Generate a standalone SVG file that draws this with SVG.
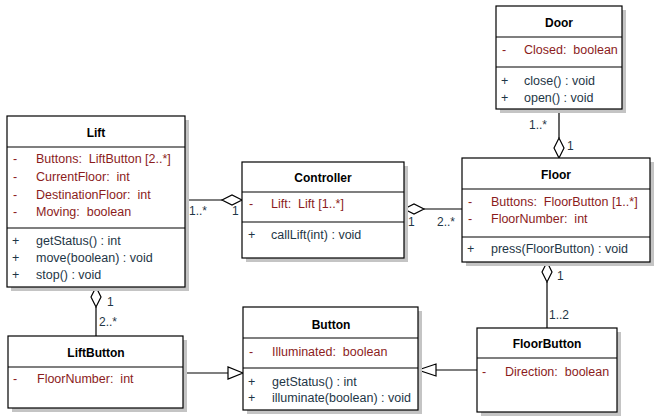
<svg xmlns="http://www.w3.org/2000/svg" width="658" height="418" viewBox="0 0 658 418">
<style>
.box{fill:#fff;stroke:#000;stroke-width:1.2}
.sh{fill:#c4c4c4}
.sep{stroke:#000;stroke-width:1.2}
text{font-family:"Liberation Sans",Arial,sans-serif;font-size:12px;white-space:pre}
.t{font-weight:bold;text-anchor:middle;fill:#000}
.a{fill:#8b1c1c;font-size:12.5px}
.o{fill:#1e3646;font-size:12.5px}
.l{fill:#1e3646}
.c{stroke:#000;stroke-width:1.2;fill:none}
.d{fill:#fff;stroke:#000;stroke-width:1.2}
</style>
<rect width="658" height="418" fill="#fff"/>
<g id="connectors">
<line class="c" x1="185" y1="200" x2="222" y2="200"/>
<polygon class="d" points="242,200 232,195 222,200 232,205"/>
<line class="c" x1="424" y1="209" x2="462" y2="209"/>
<polygon class="d" points="404,209 414,204 424,209 414,214"/>
<line class="c" x1="559" y1="109" x2="559" y2="138"/>
<polygon class="d" points="559,158 554,148 559,138 564,148"/>
<line class="c" x1="547" y1="282" x2="547" y2="328"/>
<polygon class="d" points="547,262 552,272 547,282 542,272"/>
<line class="c" x1="96" y1="307" x2="96" y2="336"/>
<polygon class="d" points="96,287 101,297 96,307 91,297"/>
<line class="c" x1="183" y1="373" x2="228" y2="373"/>
<polygon class="d" points="243,373 228,367 228,379"/>
<line class="c" x1="436" y1="370" x2="477" y2="370"/>
<polygon class="d" points="418,370 436,364 436,376"/>
<text class="l" x="189" y="215">1..*</text>
<text class="l" x="232" y="215">1</text>
<text class="l" x="408" y="226">1</text>
<text class="l" x="437" y="226">2..*</text>
<text class="l" x="529" y="129">1..*</text>
<text class="l" x="567" y="150">1</text>
<text class="l" x="557" y="280">1</text>
<text class="l" x="549" y="319">1..2</text>
<text class="l" x="107" y="306">1</text>
<text class="l" x="99" y="326">2..*</text>
</g>
<g id="Door">
<rect class="sh" x="500" y="10" width="126" height="103"/>
<rect class="box" x="496" y="6" width="126" height="103"/>
<line class="sep" x1="496" y1="37" x2="622" y2="37"/>
<line class="sep" x1="496" y1="67" x2="622" y2="67"/>
<text class="t" x="559" y="27">Door</text>
<text class="a" x="502" y="54">-</text><text class="a" x="524" y="54">Closed:  boolean</text>
<text class="o" x="501" y="85">+</text><text class="o" x="524" y="85">close() : void</text>
<text class="o" x="501" y="102">+</text><text class="o" x="524" y="102">open() : void</text>
</g>
<g id="Lift">
<rect class="sh" x="11" y="120" width="178" height="171"/>
<rect class="box" x="7" y="116" width="178" height="171"/>
<line class="sep" x1="7" y1="147" x2="185" y2="147"/>
<line class="sep" x1="7" y1="228" x2="185" y2="228"/>
<text class="t" x="96" y="137">Lift</text>
<text class="a" x="13" y="163">-</text><text class="a" x="36" y="163">Buttons:  LiftButton [2..*]</text>
<text class="a" x="13" y="181">-</text><text class="a" x="36" y="181">CurrentFloor:  int</text>
<text class="a" x="13" y="199">-</text><text class="a" x="36" y="199">DestinationFloor:  int</text>
<text class="a" x="13" y="216">-</text><text class="a" x="36" y="216">Moving:  boolean</text>
<text class="o" x="12" y="245">+</text><text class="o" x="36" y="245">getStatus() : int</text>
<text class="o" x="12" y="262">+</text><text class="o" x="36" y="262">move(boolean) : void</text>
<text class="o" x="12" y="279">+</text><text class="o" x="36" y="279">stop() : void</text>
</g>
<g id="Controller">
<rect class="sh" x="246" y="166" width="162" height="96"/>
<rect class="box" x="242" y="162" width="162" height="96"/>
<line class="sep" x1="242" y1="192" x2="404" y2="192"/>
<line class="sep" x1="242" y1="222" x2="404" y2="222"/>
<text class="t" x="323" y="182">Controller</text>
<text class="a" x="249" y="208">-</text><text class="a" x="271" y="208">Lift:  Lift [1..*]</text>
<text class="o" x="248" y="239">+</text><text class="o" x="271" y="239">callLift(int) : void</text>
</g>
<g id="Floor">
<rect class="sh" x="466" y="162" width="188" height="104"/>
<rect class="box" x="462" y="158" width="188" height="104"/>
<line class="sep" x1="462" y1="189" x2="650" y2="189"/>
<line class="sep" x1="462" y1="237" x2="650" y2="237"/>
<text class="t" x="556" y="179">Floor</text>
<text class="a" x="468" y="206">-</text><text class="a" x="491" y="206">Buttons:  FloorButton [1..*]</text>
<text class="a" x="468" y="223">-</text><text class="a" x="491" y="223">FloorNumber:  int</text>
<text class="o" x="467" y="253">+</text><text class="o" x="491" y="253">press(FloorButton) : void</text>
</g>
<g id="LiftButton">
<rect class="sh" x="12" y="340" width="175" height="72"/>
<rect class="box" x="8" y="336" width="175" height="72"/>
<line class="sep" x1="8" y1="367" x2="183" y2="367"/>
<text class="t" x="96" y="357">LiftButton</text>
<text class="a" x="13" y="383">-</text><text class="a" x="37" y="383">FloorNumber:  int</text>
</g>
<g id="Button">
<rect class="sh" x="247" y="311" width="175" height="103"/>
<rect class="box" x="243" y="307" width="175" height="103"/>
<line class="sep" x1="243" y1="338" x2="418" y2="338"/>
<line class="sep" x1="243" y1="368" x2="418" y2="368"/>
<text class="t" x="331" y="329">Button</text>
<text class="a" x="249" y="356">-</text><text class="a" x="272" y="356">Illuminated:  boolean</text>
<text class="o" x="248" y="386">+</text><text class="o" x="272" y="386">getStatus() : int</text>
<text class="o" x="248" y="402">+</text><text class="o" x="272" y="402">illuminate(boolean) : void</text>
</g>
<g id="FloorButton">
<rect class="sh" x="481" y="332" width="140" height="84"/>
<rect class="box" x="477" y="328" width="140" height="84"/>
<line class="sep" x1="477" y1="358" x2="617" y2="358"/>
<text class="t" x="547" y="348">FloorButton</text>
<text class="a" x="482" y="376">-</text><text class="a" x="505" y="376">Direction:  boolean</text>
</g>
</svg>
